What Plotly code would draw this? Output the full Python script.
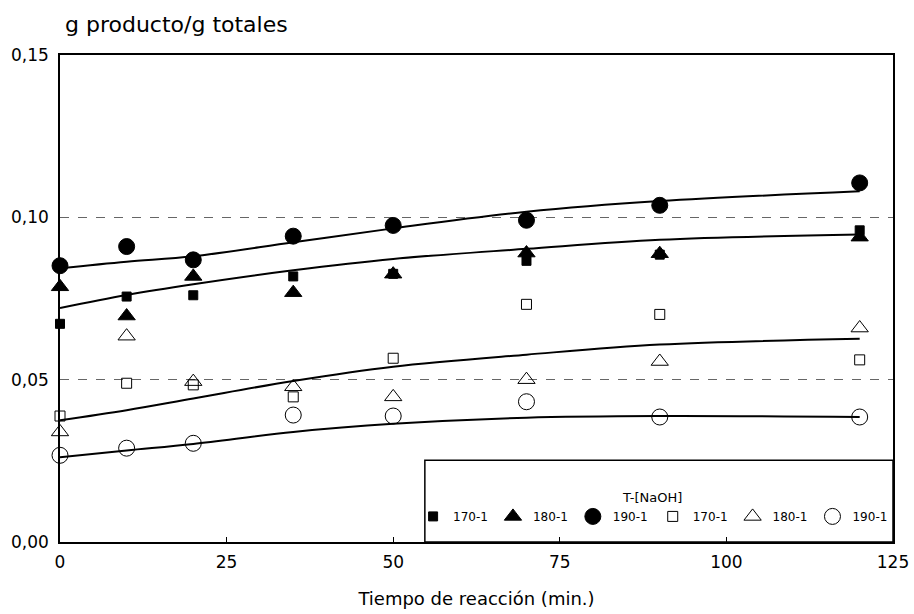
import plotly.graph_objects as go

# Reaction time (min)
tiempo = [0, 10, 20, 35, 50, 70, 90, 120]

# Measured points (g producto / g totales)
sq_filled_170 = [0.0672, 0.0756, 0.0760, 0.0818, 0.0826, 0.0866, 0.0885, 0.0960]
tri_filled_180 = [0.0786, 0.0696, 0.0818, 0.0768, 0.0825, 0.0890, 0.0888, 0.0939]
cir_filled_190 = [0.0851, 0.0910, 0.0869, 0.0942, 0.0975, 0.0991, 0.1037, 0.1106]
sq_open_170 = [0.0388, 0.0489, 0.0484, 0.0447, 0.0566, 0.0732, 0.0701, 0.0561]
tri_open_180 = [0.0339, 0.0634, 0.0494, 0.0478, 0.0447, 0.0500, 0.0556, 0.0659]
cir_open_190 = [0.0267, 0.0289, 0.0304, 0.0391, 0.0388, 0.0432, 0.0385, 0.0385]

# Fitted curves read at the same times
fit_1 = [0.0843, 0.0863, 0.0880, 0.0923, 0.0966, 0.1017, 0.1050, 0.1080]
fit_2 = [0.0721, 0.0761, 0.0794, 0.0837, 0.0872, 0.0903, 0.0931, 0.0947]
fit_3 = [0.0375, 0.0406, 0.0442, 0.0496, 0.0540, 0.0577, 0.0608, 0.0626]
fit_4 = [0.0261, 0.0282, 0.0302, 0.0339, 0.0364, 0.0383, 0.0388, 0.0385]

x_ticks = [0, 25, 50, 75, 100, 125]
y_ticks = [0.00, 0.05, 0.10, 0.15]

FONT = "DejaVu Sans"
fig = go.Figure()

for fit in (fit_1, fit_2, fit_3, fit_4):
    fig.add_trace(go.Scatter(x=tiempo, y=fit, mode="lines", showlegend=False,
                             line=dict(color="black", width=2, shape="spline"),
                             hoverinfo="skip", cliponaxis=False))

series = [
    ("170-1", sq_filled_170, "square", 9),
    ("180-1", tri_filled_180, "triangle-up", 15),
    ("190-1", cir_filled_190, "circle", 16),
    ("170-1", sq_open_170, "square-open", 10),
    ("180-1", tri_open_180, "triangle-up-open", 15),
    ("190-1", cir_open_190, "circle-open", 16),
]
for name, vals, sym, size in series:
    fig.add_trace(go.Scatter(
        x=tiempo, y=vals, mode="markers", name=name, cliponaxis=False,
        marker=dict(symbol=sym, size=size, color="black",
                    line=dict(color="black", width=1)),
    ))

fig.add_shape(type="rect", xref="paper", yref="paper",
              x0=0.438, x1=1.0, y0=0.0, y1=0.168,
              line=dict(color="black", width=1.5), fillcolor="white", layer="below")

fig.add_annotation(text="g producto/g totales", xref="paper", yref="paper",
                   x=0.0036, y=1.062, xanchor="left", yanchor="middle",
                   showarrow=False, font=dict(family=FONT, size=22, color="black"))

fig.update_layout(
    width=914, height=614,
    margin=dict(l=60, r=21, t=55, b=72, autoexpand=False),
    paper_bgcolor="white", plot_bgcolor="white",
    separators=",.",
    font=dict(family=FONT, color="black", size=17),
    legend=dict(orientation="h", x=0.712, xanchor="center", y=0.117, yanchor="top",
                bgcolor="rgba(0,0,0,0)", font=dict(size=12, family=FONT),
                title=dict(text="T-[NaOH]", side="top center", font=dict(size=13, family=FONT)),
                itemwidth=30, tracegroupgap=0),
    xaxis=dict(range=[0, 125], tickvals=x_ticks, ticks="inside", ticklen=5,
               tickcolor="black", showgrid=False, zeroline=False, automargin=False,
               showline=True, linecolor="black", linewidth=1.5, mirror=True,
               tickfont=dict(size=17), ticklabelstandoff=4,
               title=dict(text="Tiempo de reacción (min.)", font=dict(size=18), standoff=21)),
    yaxis=dict(range=[0, 0.15], tickvals=y_ticks, tickformat=".2f", ticks="",
               showgrid=True, gridcolor="#666666", griddash="dash", gridwidth=1,
               zeroline=False, showline=True, linecolor="black", linewidth=1.5,
               automargin=False,
               mirror=True, tickfont=dict(size=17), ticklabelstandoff=6),
)

fig.write_html("out.html", config={"displayModeBar": False},
               post_script="document.body.style.margin='0';document.body.style.overflow='hidden';")
